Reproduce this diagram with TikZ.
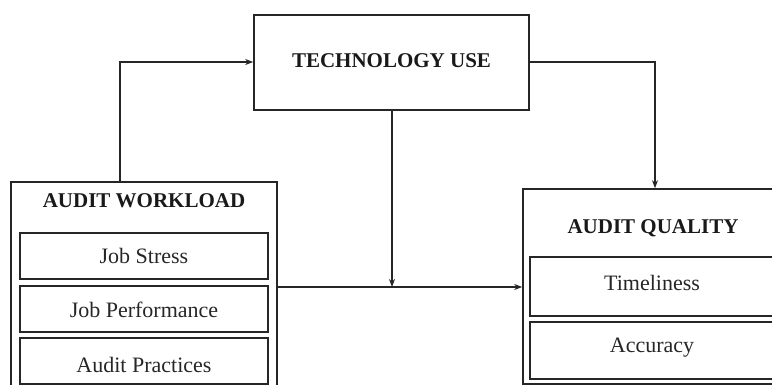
\documentclass[tikz,border=0pt]{standalone}
\usepackage{fontspec}
\setmainfont{Liberation Serif}
\usetikzlibrary{arrows.meta}
\begin{document}
\begin{tikzpicture}[x=1pt,y=-1pt,
  outer/.style={draw=black!85,line width=1.6pt,rectangle,inner sep=0pt},
  inner/.style={draw=black!85,line width=1.6pt,rectangle,inner sep=0pt},
  ttl/.style={font=\bfseries\fontsize{21}{24}\selectfont,text=black!90},
  sub/.style={font=\fontsize{22}{26}\selectfont,text=black!85},
  conn/.style={draw=black!85,line width=1.4pt,-{Stealth[length=8pt,width=6pt]}},
  plain/.style={draw=black!85,line width=1.4pt}]
\useasboundingbox (0,0) rectangle (772,385);
\clip (0,0) rectangle (772,385);
% boxes
\node[outer,minimum width=275pt,minimum height=95pt] (tech) at (391.5,62.5) {};
\node[ttl] (techt) at (391.5,61) {TECHNOLOGY USE};
\node[outer,minimum width=266pt,minimum height=220pt] (wl) at (144,292) {};
\node[ttl] (wlt) at (144,201) {AUDIT WORKLOAD};
\node[inner,minimum width=248pt,minimum height=46pt] (js) at (144,256) {};
\node[sub] at (144,256) {Job Stress};
\node[inner,minimum width=248pt,minimum height=46pt] (jp) at (144,309) {};
\node[sub] at (144,310) {Job Performance};
\node[inner,minimum width=248pt,minimum height=46pt] (ap) at (144,361) {};
\node[sub] at (144,365) {Audit Practices};
\node[outer,minimum width=254pt,minimum height=195pt] (aq) at (650,286.5) {};
\node[ttl] (aqt) at (653,228) {AUDIT QUALITY};
\node[inner,minimum width=244pt,minimum height=59pt] (tl) at (652,286.5) {};
\node[sub] at (652,283) {Timeliness};
\node[inner,minimum width=244pt,minimum height=57pt] (ac) at (652,350.5) {};
\node[sub] at (652,348) {Accuracy};
% connectors
\coordinate (j) at (392,287);
\draw[conn] (wl.north -| 120,0) |- (tech.west |- 0,62);
\draw[conn] (tech.east |- 0,62) -| (aq.north -| 655,0);
\draw[conn] (tech.south -| 392,0) -- (j);
\draw[conn] (wl.east |- 0,287) -- (aq.west |- 0,287);
\end{tikzpicture}
\end{document}
